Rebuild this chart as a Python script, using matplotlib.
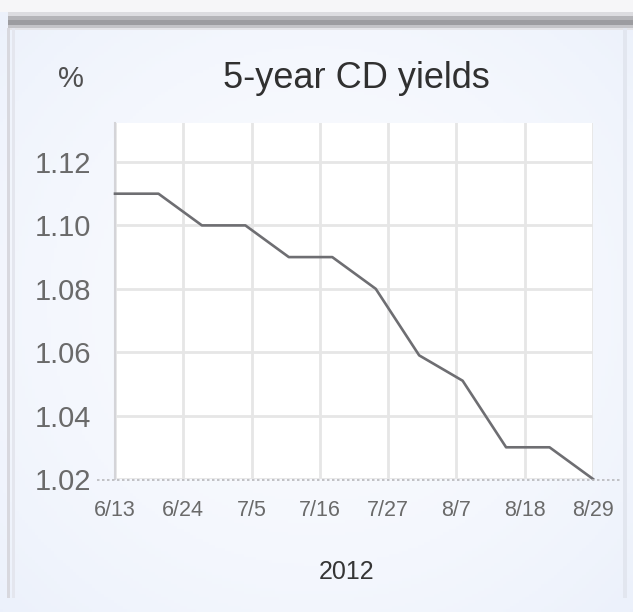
import matplotlib
matplotlib.use('Agg')
import matplotlib.pyplot as plt
from matplotlib.patches import Rectangle
import numpy as np
from datetime import datetime

# weekly 5-year CD yields, summer 2012
dates = ['2012-06-13', '2012-06-20', '2012-06-27', '2012-07-04', '2012-07-11', '2012-07-18',
         '2012-07-25', '2012-08-01', '2012-08-08', '2012-08-15', '2012-08-22', '2012-08-29']
yields = [1.11, 1.11, 1.10, 1.10, 1.09, 1.09, 1.08, 1.059, 1.051, 1.03, 1.03, 1.02]

tick_dates = ['2012-06-13', '2012-06-24', '2012-07-05', '2012-07-16',
              '2012-07-27', '2012-08-07', '2012-08-18', '2012-08-29']
tick_labels = ['6/13', '6/24', '7/5', '7/16', '7/27', '8/7', '8/18', '8/29']
y_ticks = [1.02, 1.04, 1.06, 1.08, 1.10, 1.12]

plt.rcParams['font.family'] = ['Liberation Sans', 'DejaVu Sans']

W, H = 633, 612
fig = plt.figure(figsize=(W / 100, H / 100), dpi=100)
fig.patch.set_facecolor('#eef2fb')

# soft background gradient (lighter towards the middle)
bg = fig.add_axes([0, 0, 1, 1], zorder=-10)
gx = np.linspace(-1, 1, 200)
gy = np.linspace(-1, 1, 200)
GX, GY = np.meshgrid(gx, gy)
shade = np.clip(1 - 0.5 * (GX ** 2 + GY ** 2), 0, 1)
c_edge = np.array([0.925, 0.945, 0.985])
c_mid = np.array([0.975, 0.982, 0.998])
img = c_edge[None, None, :] + (c_mid - c_edge)[None, None, :] * shade[:, :, None]
bg.imshow(img, extent=[0, 1, 0, 1], aspect='auto')
bg.set_xlim(0, 1)
bg.set_ylim(0, 1)
bg.axis('off')


def px(x, y, w, h):
    return (x / W, 1 - (y + h) / H, w / W, h / H)


# frame decorations
for (x, y, w, h, c) in [(0, 0, W, 12, '#f6f6f8'),
                        (8, 12, W - 8, 4, '#dcdce0'),
                        (8, 16, W - 8, 4, '#b4b4b8'),
                        (8, 20, W - 8, 5, '#9c9ca0'),
                        (8, 25, W - 8, 3, '#c4c4c8'),
                        (8, 28, W - 8, 2, '#e4e4e8'),
                        (7, 28, 3, H - 42, '#d8d8de'),
                        (12, 28, 3, H - 42, '#e4e6ee'),
                        (623, 28, 4, H - 42, '#e2e6ef')]:
    l, b, ww, hh = px(x, y, w, h)
    bg.add_patch(Rectangle((l, b), ww, hh, color=c, lw=0, transform=fig.transFigure))

x = [datetime.strptime(d, '%Y-%m-%d') for d in dates]
xt = [datetime.strptime(d, '%Y-%m-%d') for d in tick_dates]

ax = fig.add_axes([115 / W, (H - 479) / H, (593 - 115) / W, (479 - 123) / H])
ax.set_facecolor('white')
ax.plot(x, yields, color='#6e6e72', lw=1.9, solid_joinstyle='round', zorder=3, clip_on=False)

ax.set_xlim(xt[0], xt[-1])
ax.set_ylim(1.02, 1.1323)
ax.set_xticks(xt)
ax.set_xticklabels(tick_labels)
ax.set_yticks(y_ticks)
ax.set_yticklabels(['%.2f' % v for v in y_ticks])
ax.grid(True, color='#e6e6e6', lw=2.0)
ax.set_axisbelow(True)

for s in ['top', 'right']:
    ax.spines[s].set_visible(False)
ax.spines['left'].set_color('#d4d4d8')
ax.spines['left'].set_linewidth(1.5)
ax.spines['bottom'].set_visible(False)

# dotted baseline
fig.add_artist(plt.Line2D([97 / W, 622 / W], [(H - 480) / H] * 2, color='#b8b8bc',
                          lw=1.2, ls=(0, (1.5, 1.5)), transform=fig.transFigure))

ax.tick_params(axis='x', length=0, pad=15, labelsize=15.5, labelcolor='#6a6a6a')
ax.tick_params(axis='y', length=0, pad=17, labelsize=21, labelcolor='#6a6a6a')

fig.text(356 / W, 1 - 79 / H, '5-year CD yields', ha='center', va='center',
         fontsize=26, color='#303030')
fig.text(71 / W, 1 - 79 / H, '%', ha='center', va='center', fontsize=21, color='#505050')
fig.text(347 / W, 1 - 572 / H, '2012', ha='center', va='center', fontsize=18, color='#353535')

fig.savefig('out.png', dpi=100, facecolor=fig.get_facecolor())
